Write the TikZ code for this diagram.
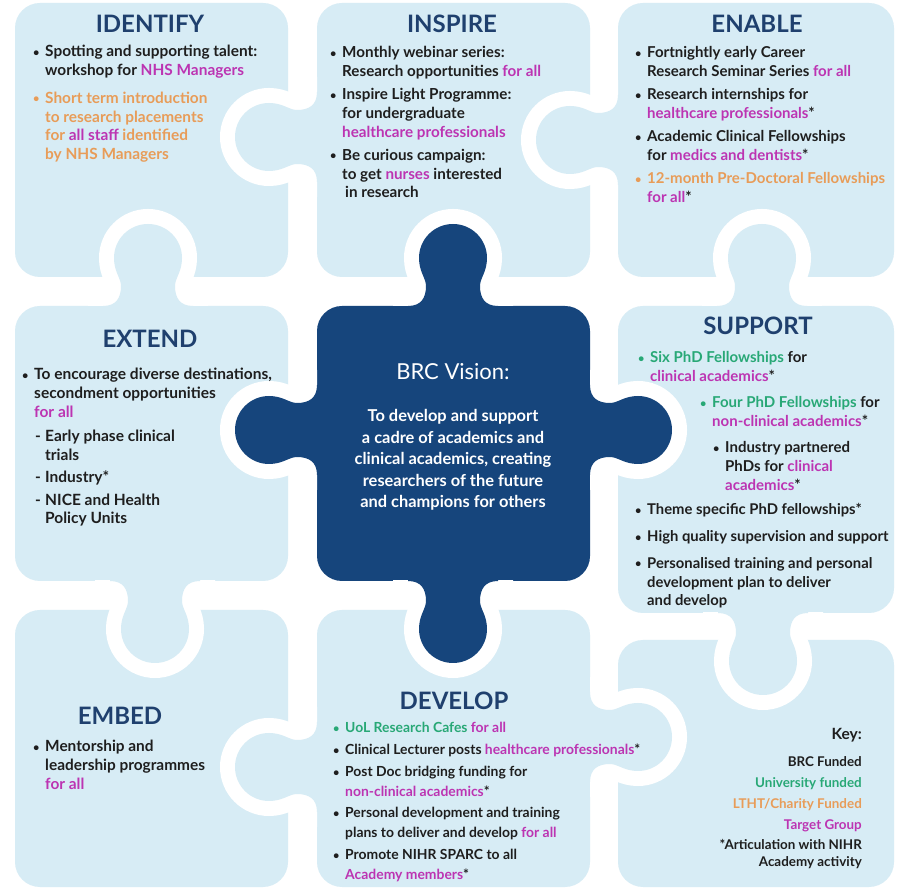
\documentclass[tikz,border=0pt]{standalone}
\usepackage{fontspec}
\setmainfont{Lato}
\usepackage{tikz}
\definecolor{piecefill}{RGB}{215,236,245}
\definecolor{hubblue}{RGB}{22,69,124}
\definecolor{titleblue}{RGB}{31,64,110}
\definecolor{inkblack}{RGB}{30,30,30}
\definecolor{groupmag}{RGB}{188,52,178}
\definecolor{charityorg}{RGB}{232,156,88}
\definecolor{unigreen}{RGB}{40,168,118}
\newcommand\pk[1]{\textcolor{groupmag}{#1}}
\newcommand\og[1]{\textcolor{charityorg}{#1}}
\newcommand\gr[1]{\textcolor{unigreen}{#1}}
\newcommand\bl{\makebox[12pt][l]{\raisebox{0.5pt}{\fontsize{11}{11}\selectfont\textbullet}}}
\newcommand\dsh{\makebox[10pt][l]{-}}
\newcommand\knobcurve{(-45,-3) -- (-45,0) .. controls (-32,0) and (-27,8) .. (-27,20)
   .. controls (-27,28) and (-34,34) .. (-34,48) arc[start angle=180, end angle=0, radius=34pt]
   .. controls (34,34) and (27,28) .. (27,20) .. controls (27,8) and (32,0) .. (45,0) -- (45,-3)}
\tikzset{
   piece/.style={fill=piecefill, rounded corners=25pt},
   hub/.style={fill=hubblue, rounded corners=25pt},
   title/.style={anchor=base, inner sep=0pt, text=titleblue,
      font=\fontsize{24}{28}\selectfont\bfseries},
   body/.style={anchor=base west, inner sep=0pt, text=inkblack,
      font=\fontsize{#1}{18.7}\selectfont\bfseries},
   body/.default=15,
   knob/.pic={
      \begin{scope}
         \clip (-80,0) rectangle (80,120);
         \draw[white, line width=30pt, fill=white] \knobcurve -- cycle;
      \end{scope}
      \fill[#1] \knobcurve -- cycle;
   },
}
\begin{document}
\begin{tikzpicture}[x=1pt, y=1pt]
            \useasboundingbox (0,0) rectangle (897,889);
            \fill[white] (0,0) rectangle (897,889);
            % pieces
            \fill[piece] (15,612) rectangle (288,886);
            \fill[piece] (317,612) rectangle (590,886);
            \fill[piece] (618,612) rectangle (894,886);
            \fill[piece] (15,308) rectangle (288,583);
            \fill[hub] (317,308) rectangle (590,583);
            \fill[piece] (618,276) rectangle (894,583);
            \fill[piece] (15,2) rectangle (288,279);
            \fill[piece] (317,2) rectangle (590,279);
            \fill[piece] (618,2) rectangle (894,249);
            % knobs
            \pic[rotate=90] at (317,752) {knob=piecefill};
            \pic[rotate=90] at (618,749) {knob=piecefill};
            \pic at (148,583) {knob=piecefill};
            \pic at (453,583) {knob=hubblue};
            \pic at (762,583) {knob=piecefill};
            \pic[rotate=90] at (317,459) {knob=hubblue};
            \pic[rotate=-90] at (590,459) {knob=hubblue};
            \pic[rotate=180] at (155,308) {knob=piecefill};
            \pic[rotate=180] at (453,308) {knob=hubblue};
            \pic[rotate=90] at (317,122) {knob=piecefill};
            \pic[rotate=-90] at (590,152) {knob=piecefill};
            \pic[rotate=180] at (763,276) {knob=piecefill};
            % titles
            \node[title] (identify) at (150,856) {IDENTIFY};
            \node[title] (inspire) at (452,856) {INSPIRE};
            \node[title] (enable) at (757,856) {ENABLE};
            \node[title] (extend) at (150,541) {EXTEND};
            \node[title] (support) at (758,554) {SUPPORT};
            \node[title] (embed) at (120,164) {EMBED};
            \node[title] (develop) at (454,179) {DEVELOP};
            % texts
            \node[body=15.4] (identifytext) at (33,832) {\begin{tabular}[t]{@{}l@{}l@{}}
               \bl & Spotting and supporting talent:\\
                   & workshop for \pk{NHS Managers}\\[9pt]
               \og{\bl} & \og{Short term introduction}\\
                   & \og{to research placements}\\
                   & \og{for \pk{all staff} identified}\\
                   & \og{by NHS Managers}
            \end{tabular}};
            \node[body=15.2] (inspiretext) at (330,831) {\begin{tabular}[t]{@{}l@{}l@{}}
               \bl & Monthly webinar series:\\
                   & Research opportunities \pk{for all}\\[4.5pt]
               \bl & Inspire Light Programme:\\
                   & for undergraduate\\
                   & \pk{healthcare professionals}\\[4.5pt]
               \bl & Be curious campaign:\\
                   & to get \pk{nurses} interested\\
                   & \hspace{3pt}in research
            \end{tabular}};
            \node[body=15] (enabletext) at (635,831) {\begin{tabular}[t]{@{}l@{}l@{}}
               \bl & Fortnightly early Career\\
                   & Research Seminar Series \pk{for all}\\[4.5pt]
               \bl & Research internships for\\
                   & \pk{healthcare professionals}*\\[4.5pt]
               \bl & Academic Clinical Fellowships\\
                   & for \pk{medics and dentists}*\\[4.5pt]
               \og{\bl} & \og{12-month Pre-Doctoral Fellowships}\\
                   & \pk{for all}*
            \end{tabular}};
            \node[body=15.5] (extendtext) at (22,509) {\begin{tabular}[t]{@{}l@{}l@{}}
               \bl & To encourage diverse destinations,\\
                   & secondment opportunities\\
                   & \pk{for all}
            \end{tabular}};
            \node[body=15.5] (extendlist) at (35,447) {\begin{tabular}[t]{@{}l@{}l@{}}
               \dsh & Early phase clinical\\
                    & trials\\[3pt]
               \dsh & Industry*\\[4pt]
               \dsh & NICE and Health\\
                    & Policy Units
            \end{tabular}};
            \node[anchor=base, inner sep=0pt, text=white, font=\fontsize{22}{25}\selectfont] (vision) at (453,509) {BRC Vision:};
            \node[anchor=base, inner sep=0pt, text=white, font=\fontsize{16.4}{21.5}\selectfont\bfseries] (visiontext) at (453,467) {\begin{tabular}[t]{@{}c@{}}
               To develop and support\\
               a cadre of academics and\\
               clinical academics, creating\\
               researchers of the future\\
               and champions for others
            \end{tabular}};
            \node[body=15] (supportsix) at (638,526) {\begin{tabular}[t]{@{}l@{}l@{}}
               \gr{\bl} & \gr{Six PhD Fellowships} for\\
                        & \pk{clinical academics}*
            \end{tabular}};
            \node[body=15] (supportfour) at (700,481) {\begin{tabular}[t]{@{}l@{}l@{}}
               \gr{\bl} & \gr{Four PhD Fellowships} for\\
                        & \pk{non-clinical academics}*
            \end{tabular}};
            \node[body=15] (supportindustry) at (713,436) {\begin{tabular}[t]{@{}l@{}l@{}}
               \bl & Industry partnered\\
                   & PhDs for \pk{clinical}\\
                   & \pk{academics}*
            \end{tabular}};
            \node[body=14.8] (supportmore) at (635,374) {\begin{tabular}[t]{@{}l@{}l@{}}
               \bl & Theme specific PhD fellowships*\\[8pt]
               \bl & High quality supervision and support\\[8pt]
               \bl & Personalised training and personal\\
                   & development plan to deliver\\
                   & and develop
            \end{tabular}};
            \node[body=15.4] (embedtext) at (33,137) {\begin{tabular}[t]{@{}l@{}l@{}}
               \bl & Mentorship and\\
                   & leadership programmes\\
                   & \pk{for all}
            \end{tabular}};
            \node[body, font=\fontsize{13.9}{20}\selectfont\bfseries] (developtext) at (333,156) {\begin{tabular}[t]{@{}l@{}l@{}}
               \gr{\bl} & \gr{UoL Research Cafes} \pk{for all}\\[2pt]
               \bl & Clinical Lecturer posts \pk{healthcare professionals}*\\[2pt]
               \bl & Post Doc bridging funding for\\
                   & \pk{non-clinical academics}*\\[1pt]
               \bl & Personal development and training\\
                   & plans to deliver and develop \pk{for all}\\[2pt]
               \bl & Promote NIHR SPARC to all\\
                   & \pk{Academy members}*
            \end{tabular}};
            \node[anchor=base east, inner sep=0pt, text=inkblack, font=\fontsize{13.4}{21}\selectfont\bfseries] (keytext) at (862,149) {\begin{tabular}[t]{@{}r@{}}
               {\fontsize{15.5}{18}\selectfont Key:}\\[6pt]
               BRC Funded\\
               \gr{University funded}\\
               \og{LTHT/Charity Funded}\\
               \pk{Target Group}
            \end{tabular}};
            \node[anchor=base east, inner sep=0pt, text=inkblack, font=\fontsize{13.4}{17}\selectfont\bfseries] (keynote) at (862,39) {\begin{tabular}[t]{@{}r@{}}
               *Articulation with NIHR\\
               Academy activity
            \end{tabular}};
        \end{tikzpicture}
\end{document}
